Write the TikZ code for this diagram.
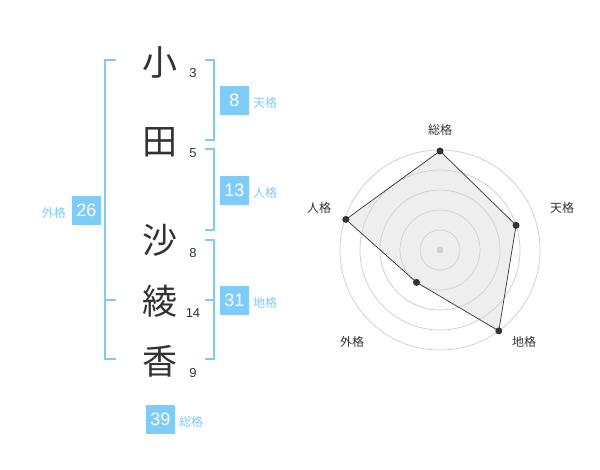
\documentclass[tikz,border=0pt]{standalone}
\usepackage{fontspec}
\setmainfont{Liberation Sans}
\newfontfamily\jp{Noto Sans CJK JP}
\definecolor{brk}{HTML}{7FCAF6}
\definecolor{bx}{HTML}{80CCF8}
\definecolor{ink}{HTML}{333333}
\definecolor{ring}{HTML}{CCCCCC}
\begin{document}
\begin{tikzpicture}[x=1pt,y=-1pt,
  kanji/.style={font=\jp\fontsize{35}{35}\selectfont,text=ink,inner sep=0pt},
  stroke/.style={font=\fontsize{13}{13}\selectfont,text=ink,inner sep=0pt},
  valbox/.style={fill=bx,text=white,minimum width=29pt,minimum height=29pt,inner sep=0pt,font=\fontsize{18}{18}\selectfont},
  kaku/.style={font=\jp\fontsize{12}{12}\selectfont,text=brk,inner sep=0pt},
  brack/.style={draw=brk,line width=1.8pt},
  axlab/.style={font=\jp\fontsize{12}{12}\selectfont,text=ink,inner sep=0pt},
  dot/.style={circle,fill=ink,inner sep=0pt,minimum size=7pt}]
\useasboundingbox (0,0) rectangle (600,470);
% kanji
\node[kanji] (k1) at (160,62) {小};
\node[kanji] (k2) at (160,142) {田};
\node[kanji] (k3) at (160,240) {沙};
\node[kanji] (k4) at (160,301) {綾};
\node[kanji] (k5) at (160,361) {香};
% stroke counts
\node[stroke] (s1) at (193,73) {3};
\node[stroke] (s2) at (193,153) {5};
\node[stroke] (s3) at (193,253) {8};
\node[stroke] (s4) at (193,313) {14};
\node[stroke] (s5) at (193,373) {9};
% brackets
\coordinate (a1) at (205,60); \coordinate (a2) at (214,60);
\coordinate (a3) at (214,140); \coordinate (a4) at (205,140);
\draw[brack] (a1) -- (a2) -- (a3) -- (a4);
\coordinate (b1) at (205,149); \coordinate (b2) at (214,149);
\coordinate (b3) at (214,230); \coordinate (b4) at (205,230);
\draw[brack] (b1) -- (b2) -- (b3) -- (b4);
\coordinate (c1) at (205,240); \coordinate (c2) at (214,240);
\coordinate (c3) at (214,359); \coordinate (c4) at (205,359);
\coordinate (c5) at (205,300); \coordinate (c6) at (214,300);
\draw[brack] (c1) -- (c2) -- (c3) -- (c4);
\draw[brack] (c5) -- (c6);
\coordinate (d1) at (116,60); \coordinate (d2) at (105,60);
\coordinate (d3) at (105,359); \coordinate (d4) at (116,359);
\coordinate (d5) at (105,300); \coordinate (d6) at (116,300);
\draw[brack] (d1) -- (d2) -- (d3) -- (d4);
\draw[brack] (d5) -- (d6);
% value boxes
\node[valbox] (v1) at (234.5,100.5) {8};
\node[kaku,anchor=west] (l1) at (253,103) {天格};
\node[valbox] (v2) at (234.5,190.5) {13};
\node[kaku,anchor=west] (l2) at (253,193) {人格};
\node[valbox] (v3) at (234.5,300.5) {31};
\node[kaku,anchor=west] (l3) at (253,303) {地格};
\node[valbox] (v4) at (86.5,210.5) {26};
\node[kaku,anchor=east] (l4) at (66,213) {外格};
\node[valbox] (v5) at (160.5,419.5) {39};
\node[kaku,anchor=west] (l5) at (179,422) {総格};
% radar
\begin{scope}[shift={(440,250)}]
\foreach \r in {20,40,60,80,100} \draw[ring,line width=0.7pt] (0,0) circle[radius=\r pt];
\fill[ring] (0,0) circle[radius=3.5pt];
\coordinate (p1) at (90:99pt);
\coordinate (p2) at (18:80pt);
\coordinate (p3) at (-54:100pt);
\coordinate (p4) at (-126:40pt);
\coordinate (p5) at (162:99pt);
\filldraw[fill=black!15,fill opacity=0.45,draw=ink,line width=0.7pt] (p1) -- (p2) -- (p3) -- (p4) -- (p5) -- cycle;
\foreach \p in {p1,p2,p3,p4,p5} \node[dot] at (\p) {};
\end{scope}
\node[axlab] (r1) at (440,130) {総格};
\node[axlab] (r2) at (562,208) {天格};
\node[axlab] (r3) at (524,342) {地格};
\node[axlab] (r4) at (352,342) {外格};
\node[axlab] (r5) at (319,208) {人格};
\end{tikzpicture}
\end{document}
